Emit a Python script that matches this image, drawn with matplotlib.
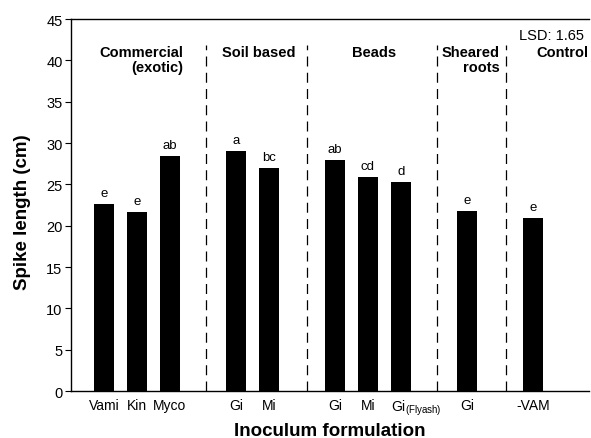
import numpy as np
import matplotlib
matplotlib.use("Agg")
import matplotlib.pyplot as plt

plt.rcParams['font.family'] = ['Liberation Sans', 'DejaVu Sans']
plt.rcParams['mathtext.fontset'] = 'custom'
plt.rcParams['mathtext.rm'] = 'Liberation Sans'

# Data
labels = ['Vami', 'Kin', 'Myco', 'Gi', 'Mi', 'Gi', 'Mi', 'Gi$_{\\mathregular{(Flyash)}}$', 'Gi', '-VAM']
positions = np.array([0, 1, 2, 4, 5, 7, 8, 9, 11, 13], dtype=float)
values = [22.6, 21.7, 28.4, 29.0, 27.0, 28.0, 25.9, 25.3, 21.8, 20.9]
letters = ['e', 'e', 'ab', 'a', 'bc', 'ab', 'cd', 'd', 'e', 'e']
separators = [3.1, 6.15, 10.1, 12.2]
groups = ['Commercial\n(exotic)', 'Soil based', 'Beads', 'Sheared\nroots', 'Control']
group_x = [2.4, 4.7, 8.2, 12.0, 13.9]
group_ha = ['right', 'center', 'center', 'right', 'center']

width = 0.6

fig = plt.figure(figsize=(5.91, 4.39), dpi=100)
ax = fig.add_axes([0.120, 0.107, 0.8766, 0.8474])

ax.bar(positions, values, width=width, color='black')

for xp, v, t in zip(positions, values, letters):
    ax.text(xp, v + 0.6, t, ha='center', va='bottom', fontsize=9.5)

for s in separators:
    ax.plot([s, s], [0, 41.8], color='black', lw=0.9, dashes=(8, 5))

for g, gx, ha in zip(groups, group_x, group_ha):
    ax.text(gx, 41.8, g, ha=ha, va='top', fontsize=10.5, fontweight='bold',
            multialignment='right', linespacing=1.05)

ax.text(0.99, 0.975, 'LSD: 1.65', transform=ax.transAxes, ha='right', va='top', fontsize=10.5)

ax.set_xlim(-1.0, 14.7)
ax.set_ylim(0, 45)
ax.set_yticks(np.arange(0, 46, 5))

tick_pos = positions.copy()
tick_pos[7] -= width / 2
ax.set_xticks(tick_pos)
ax.set_xticklabels(labels)
ax.get_xticklabels()[7].set_ha('left')
ax.tick_params(axis='x', length=0, pad=5, labelsize=10)
ax.tick_params(axis='y', direction='out', length=4, pad=2, labelsize=10.5)

ax.spines['right'].set_visible(False)
for sp in ['left', 'bottom', 'top']:
    ax.spines[sp].set_linewidth(1.0)

ax.set_ylabel('Spike length (cm)', fontsize=13.5, fontweight='bold')
ax.set_xlabel('Inoculum formulation', fontsize=13.5, fontweight='bold')
ax.yaxis.set_label_coords(-0.077, 0.484)
ax.xaxis.set_label_coords(0.5, -0.083)

fig.savefig('out.png', dpi=100)
